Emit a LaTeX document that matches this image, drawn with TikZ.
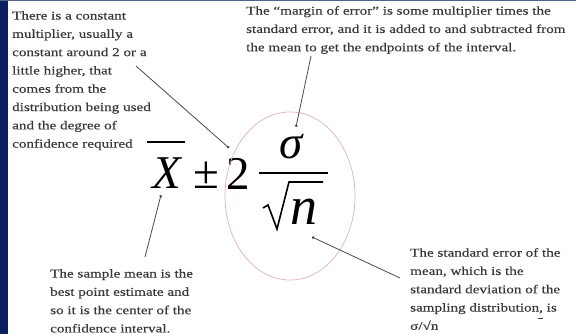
\documentclass[tikz,border=0pt]{standalone}
\usepackage{fontspec}
\setmainfont{Liberation Serif}
\newfontfamily\notefont[FakeStretch=1.26,FakeBold=0.25]{Liberation Serif}
\usetikzlibrary{arrows.meta,shapes.geometric}
\definecolor{navy}{HTML}{0B1F5E}
\definecolor{txt}{HTML}{383838}
\definecolor{pinkring}{HTML}{E3B1B6}
\definecolor{conn}{HTML}{4A4A4A}
\tikzset{
  note/.style={inner sep=0pt, anchor=north west, align=left, text=txt,
    font=\notefont\fontsize{12}{18.3}\selectfont},
  big/.style={inner sep=0pt, text=black, font=\fontsize{47}{50}\selectfont},
  pointer/.style={draw=conn, line width=0.8pt, -{Circle[length=2.6pt]}},
}
\begin{document}
\begin{tikzpicture}[x=1pt,y=-1pt]
\useasboundingbox (0,0) rectangle (576,334);
\fill[white] (0,0) rectangle (576,334);
\fill[navy] (0,0) rectangle (8,334);
\fill[navy!70] (0,0) rectangle (576,1.2);

% texts
\node[note] (tl) at (12,11) {There is a constant\\multiplier, usually a\\constant around 2 or a\\little higher, that\\comes from the\\distribution being used\\and the degree of\\confidence required};
\node[note] (tr) at (246,6) {The “margin of error” is some multiplier times the\\standard error, and it is added to and subtracted from\\the mean to get the endpoints of the interval.};
\node[note] (bl) at (50,269) {The sample mean is the\\best point estimate and\\so it is the center of the\\confidence interval.};
\node[note] (br) at (410,248) {The standard error of the\\mean, which is the\\standard deviation of the\\sampling distribution, is\\σ/√n};
\draw[txt, line width=0.9pt] (537.5,318) -- (542.5,318);

% formula
\node[big] (X) at (167,173) {\itshape X};
\draw[line width=1.8pt] (147,142) -- (185,142);
\node[big] (pm) at (206,175) {±};
\node[big] (two) at (238,174) {2};
\node[big] (sig) at (291,147) {\itshape σ};
\draw[line width=1.8pt] (259,173) -- (328,173);
\draw[line width=1.6pt, line join=miter] (263,208) -- (268,205) -- (277,229) -- (289,182) -- (323,182);
\node[inner sep=0pt, font=\fontsize{54}{56}\selectfont\itshape] (n) at (304,212) {n};

\node[draw=pinkring, line width=0.7pt, ellipse, minimum width=130pt, minimum height=168pt, inner sep=0pt] (ring) at (290,196) {};

% connectors
\coordinate (c1s) at (136,66);
\coordinate (c1e) at (229,148);
\coordinate (c2s) at (311,56);
\coordinate (c2e) at (296,127);
\coordinate (c3s) at (145,257);
\coordinate (c3e) at (161,195);
\coordinate (c4s) at (400,278);
\coordinate (c4e) at (312,237);
\draw[pointer] (c1s) -- (c1e);
\draw[pointer] (c2s) -- (c2e);
\draw[pointer] (c3s) -- (c3e);
\draw[pointer] (c4s) -- (c4e);
\end{tikzpicture}
\end{document}
